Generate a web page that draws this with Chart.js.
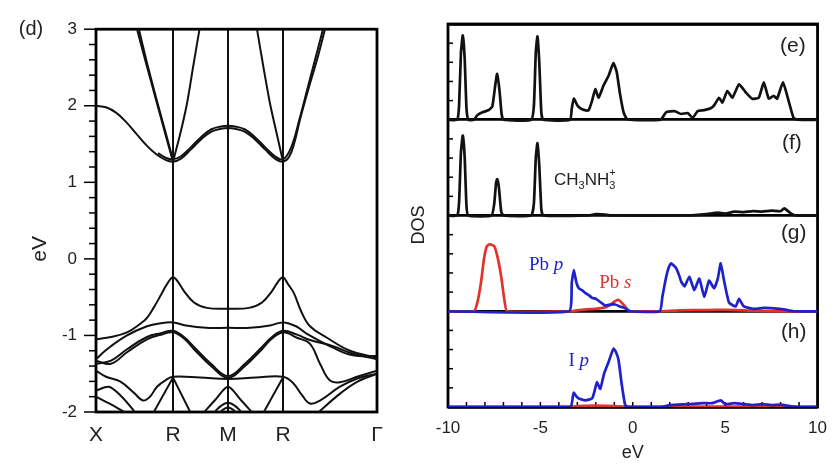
<!DOCTYPE html>
<html>
<head>
<meta charset="utf-8">
<script src="https://cdn.jsdelivr.net/npm/chart.js@4.4.1/dist/chart.umd.min.js"></script>
<style>
  body { margin: 0; background: #fff; }
  #wrap { position: relative; width: 838px; height: 471px; }
  canvas { position: absolute; top: 0; }
  #bands { left: 0; }
  #dos { left: 400px; }
</style>
</head>
<body>
<div id="wrap">
  <canvas id="bands" width="420" height="471"></canvas>
  <canvas id="dos" width="438" height="471"></canvas>
</div>
<script>
// ---- band structure (d) : [k, eV] ----
const kTicks = [0, 77, 132, 187, 281];
const kLabels = ["X", "R", "M", "R", "Γ"];
const eTicks = [-2, -1, 0, 1, 2, 3];

const bandC1a = [[0,2.0],[10,1.98],[20,1.91],[30,1.79],[40,1.64],[50,1.49],[60,1.37],[70,1.29],[77,1.27],[85,1.31],[95,1.43],[105,1.56],[115,1.66],[125,1.7],[132,1.71],[139,1.7],[149,1.66],[159,1.56],[169,1.43],[179,1.31],[187,1.27],[193,1.33],[198,1.5],[204,1.82],[212,2.2],[221,2.6],[229,3.0],[231,3.1]];
const bandC1b = [[62,1.38],[70,1.32],[77,1.3],[85,1.34],[95,1.46],[105,1.59],[115,1.69],[125,1.73],[132,1.74],[139,1.73],[149,1.69],[159,1.59],[169,1.46],[179,1.34],[187,1.3],[195,1.45],[203,1.8],[212,2.25],[220,2.65],[228,3.05]];
const bandC2a = [[40,3.05],[50,2.56],[60,2.08],[70,1.6],[77,1.27]];
const bandC2b = [[42,3.05],[51,2.56],[61,2.06],[70,1.63],[77,1.29]];
const bandC3 = [[77,1.27],[84,1.62],[91,2.03],[97,2.5],[103.5,3.0]];
const bandC4 = [[161,3.0],[167.5,2.5],[174,2.03],[181,1.62],[187,1.27]];

const bandV1 = [[0,-1.05],[15,-1.02],[31,-0.96],[45,-0.84],[51,-0.77],[58,-0.63],[65,-0.47],[71,-0.33],[77,-0.24],[82,-0.3],[88,-0.42],[98,-0.57],[111,-0.64],[132,-0.65],[153,-0.64],[166,-0.57],[176,-0.42],[182,-0.3],[187,-0.24],[192,-0.33],[198,-0.45],[205,-0.68],[214,-0.88],[231,-1.03],[254,-1.2],[281,-1.29]];
const bandV2 = [[0,-1.31],[11,-1.18],[31,-1.0],[51,-0.88],[65,-0.84],[77,-0.83],[90,-0.87],[110,-0.9],[132,-0.9],[154,-0.9],[174,-0.87],[187,-0.83],[200,-0.88],[211,-0.98],[237,-1.16],[257,-1.26],[281,-1.27]];
const bandV3a = [[0,-1.33],[15,-1.37],[31,-1.22],[51,-1.05],[65,-0.99],[77,-0.96],[88,-1.04],[98,-1.18],[115,-1.4],[132,-1.55],[149,-1.4],[166,-1.18],[176,-1.04],[187,-0.96],[201,-1.03],[214,-1.11],[224,-1.37],[234,-1.59],[244,-1.61],[261,-1.54],[281,-1.46]];
const bandV3b = [[0,-1.37],[15,-1.33],[31,-1.18],[51,-1.02],[65,-0.97],[77,-0.94],[88,-1.02],[98,-1.15],[115,-1.37],[132,-1.53],[149,-1.37],[166,-1.15],[176,-1.02],[187,-0.94],[201,-0.99],[214,-1.06],[237,-1.14],[257,-1.24],[281,-1.31]];
const bandV4 = [[0,-1.46],[10,-1.54],[24,-1.6],[38,-1.75],[47,-1.85],[54,-1.8],[61,-1.67],[70,-1.58],[77,-1.54],[104,-1.55],[132,-1.57],[160,-1.55],[187,-1.54],[197,-1.62],[206,-1.78],[214,-1.89],[224,-1.85],[244,-1.67],[262,-1.56],[281,-1.5]];
const bandV6 = [[0,-1.72],[13,-1.67],[25,-1.79],[37,-1.97],[39,-2.02]];
const bandV7 = [[0,-1.8],[15,-1.9],[31,-2.02]];
const bandV8 = [[57,-2.02],[77,-1.55],[95,-2.02]];
const bandV9 = [[107,-2.02],[120,-1.83],[132,-1.67],[144,-1.83],[157,-2.02]];
const bandV10 = [[117,-2.02],[125,-1.92],[132,-1.88],[139,-1.92],[147,-2.02]];
const bandV11 = [[122,-2.02],[132,-1.94],[142,-2.02]];
const bandV12 = [[167,-2.02],[187,-1.55]];
const bandV13 = [[221,-2.02],[244,-1.76],[262,-1.6],[281,-1.5]];

// ---- DOS (e)-(h) : [eV, height as fraction of its panel] ----
const dosTicks = [-10, -5, 0, 5, 10];
const totalDos = [[-10,0],[-9.5,0],[-9.4,0.15],[-9.3,0.7],[-9.2,0.88],[-9.1,0.65],[-9.0,0.12],[-8.9,0],[-8.6,0],[-8.4,0.05],[-8.1,0.08],[-7.8,0.1],[-7.6,0.14],[-7.45,0.35],[-7.34,0.48],[-7.22,0.32],[-7.1,0.06],[-7.0,0],[-5.5,0],[-5.35,0.15],[-5.25,0.7],[-5.16,0.87],[-5.06,0.6],[-4.95,0.08],[-4.85,0],[-3.4,0],[-3.3,0.12],[-3.19,0.22],[-3.0,0.15],[-2.83,0.12],[-2.6,0.1],[-2.39,0.1],[-2.2,0.2],[-2.03,0.32],[-1.85,0.23],[-1.6,0.35],[-1.31,0.46],[-1.05,0.59],[-0.87,0.5],[-0.69,0.27],[-0.5,0.08],[-0.33,0.01],[-0.1,0],[1.5,0],[1.81,0.08],[2.26,0.09],[2.62,0.06],[2.97,0.07],[3.24,0.02],[3.51,0.09],[3.87,0.1],[4.22,0.12],[4.4,0.15],[4.67,0.23],[4.85,0.18],[5.12,0.3],[5.39,0.23],[5.75,0.37],[6.1,0.29],[6.46,0.22],[6.82,0.23],[7.09,0.39],[7.36,0.22],[7.63,0.25],[7.81,0.22],[8.13,0.39],[8.43,0.2],[8.7,0.02],[8.9,0],[10,0]];
const cationDos = [[-10,0],[-9.5,0],[-9.4,0.14],[-9.3,0.66],[-9.2,0.835],[-9.1,0.62],[-9.0,0.1],[-8.9,0],[-7.65,0],[-7.5,0.12],[-7.4,0.34],[-7.34,0.38],[-7.25,0.3],[-7.12,0.04],[-7.0,0],[-5.5,0],[-5.35,0.13],[-5.25,0.6],[-5.16,0.755],[-5.06,0.52],[-4.95,0.07],[-4.85,0],[-2.4,0],[-2.0,0.015],[-1.5,0.01],[-1.2,0],[3.0,0],[4.0,0.015],[4.6,0.03],[5.0,0.02],[5.5,0.04],[6.0,0.035],[6.5,0.045],[7.0,0.04],[7.5,0.05],[8.0,0.045],[8.2,0.075],[8.5,0.03],[8.8,0],[10,0]];
const pbS = [[-10,0],[-8.6,0],[-8.4,0.1],[-8.2,0.32],[-8.05,0.55],[-7.9,0.68],[-7.75,0.7],[-7.5,0.68],[-7.3,0.55],[-7.12,0.36],[-6.95,0.12],[-6.8,0],[-3.3,0],[-3.0,0.01],[-2.5,0.02],[-2.0,0.025],[-1.5,0.04],[-1.23,0.065],[-1.0,0.1],[-0.78,0.12],[-0.55,0.08],[-0.3,0.02],[-0.1,0],[1.5,0],[2.5,0.01],[4.0,0.012],[5.0,0.015],[6.0,0.01],[7.5,0],[10,0]];
const pbP = [[-10,0],[-3.46,0],[-3.3,0.3],[-3.19,0.43],[-3.05,0.3],[-2.92,0.24],[-2.75,0.22],[-2.56,0.19],[-2.4,0.17],[-2.2,0.14],[-2.0,0.13],[-1.85,0.11],[-1.65,0.08],[-1.49,0.06],[-1.2,0.07],[-0.95,0.07],[-0.7,0.05],[-0.41,0.03],[-0.15,0],[1.46,0],[1.6,0.15],[1.81,0.36],[1.95,0.46],[2.08,0.5],[2.35,0.45],[2.5,0.38],[2.62,0.31],[2.8,0.26],[3.06,0.36],[3.33,0.22],[3.6,0.34],[3.87,0.15],[4.13,0.32],[4.4,0.24],[4.6,0.34],[4.76,0.5],[4.94,0.32],[5.21,0.09],[5.57,0.05],[5.75,0.13],[6.01,0.05],[6.55,0.025],[7.09,0.035],[7.63,0.03],[8.17,0.02],[8.7,0],[10,0]];
const iP = [[-10,0],[-3.37,0],[-3.25,0.1],[-3.19,0.15],[-3.05,0.11],[-2.92,0.09],[-2.56,0.07],[-2.2,0.09],[-2.05,0.18],[-1.94,0.26],[-1.76,0.19],[-1.55,0.35],[-1.31,0.47],[-1.15,0.56],[-1.04,0.61],[-0.9,0.57],[-0.77,0.49],[-0.6,0.24],[-0.41,0.02],[-0.24,0],[1.5,0],[2.0,0.02],[3.0,0.03],[3.8,0.04],[4.3,0.04],[4.76,0.07],[5.0,0.03],[5.5,0.04],[6.0,0.03],[6.5,0.02],[7.0,0.03],[7.5,0.02],[8.0,0.025],[8.5,0.01],[9.0,0],[10,0]];
const iS = [[-10,0],[-3.4,0],[-3.0,0.01],[-2.0,0.015],[-1.0,0.01],[-0.5,0],[10,0]];

const SANS = "'Liberation Sans', Arial, sans-serif";
const SERIF = "'Liberation Serif', 'Times New Roman', serif";
const BLUE = "#1f22c9";
const RED = "#e3312c";

// 枠・目盛り・注記を描く小さなプラグイン
const decoPlugin = {
  id: "deco",
  beforeDatasetsDraw(chart, args, opts) {
    const { ctx, chartArea: a } = chart;
    const xs = chart.scales.x, ys = chart.scales.y;
    ctx.save();
    ctx.strokeStyle = "#000";
    ctx.lineWidth = opts.frameWidth;
    ctx.strokeRect(a.left, a.top, a.right - a.left, a.bottom - a.top);
    ctx.lineWidth = 1.5;
    for (const t of opts.yTicks || []) {
      const py = ys.getPixelForValue(t.v);
      ctx.beginPath();
      ctx.moveTo(a.left, py);
      ctx.lineTo(a.left + t.len, py);
      ctx.stroke();
    }
    for (const t of opts.xTicks || []) {
      const px = xs.getPixelForValue(t.v);
      ctx.beginPath();
      ctx.moveTo(px, a.bottom);
      ctx.lineTo(px, a.bottom - t.len);
      ctx.stroke();
    }
    ctx.restore();
  },
  afterDraw(chart, args, opts) {
    const { ctx } = chart;
    const xs = chart.scales.x, ys = chart.scales.y;
    for (const n of opts.notes || []) {
      const px = xs.getPixelForValue(n.x), py = ys.getPixelForValue(n.y);
      ctx.save();
      ctx.translate(px, py);
      if (n.rotate) ctx.rotate(n.rotate);
      ctx.fillStyle = n.color || "#222";
      ctx.textBaseline = "middle";
      ctx.textAlign = "left";
      let w = 0;
      for (const r of n.runs) {
        ctx.font = r.font;
        if (!r.over) w += ctx.measureText(r.t).width;
      }
      let cx = n.align === "left" ? 0 : -w / 2;
      let lastX = cx;
      for (const r of n.runs) {
        ctx.font = r.font;
        const rx = r.over ? lastX : cx;
        ctx.fillText(r.t, rx, r.dy || 0);
        if (!r.over) {
          lastX = cx;
          cx += ctx.measureText(r.t).width;
        }
      }
      ctx.restore();
    }
  },
};

const toXY = (arr, off = 0) => arr.map(([x, y]) => ({ x, y: y + off }));

// ---------- (d) バンド図 ----------
const bandList = [
  [bandC1a, 0.4], [bandC1b, 0.4], [bandC2a, 0.3], [bandC2b, 0.3], [bandC3, 0.3], [bandC4, 0.3],
  [bandV1, 0.4], [bandV2, 0.4], [bandV3a, 0.4], [bandV3b, 0.4], [bandV4, 0.4],
  [bandV6, 0.3], [bandV7, 0.3], [bandV8, 0], [bandV9, 0.3], [bandV10, 0.4], [bandV11, 0.4],
  [bandV12, 0], [bandV13, 0.3],
];

const yMinor = [];
for (let v = -2; v <= 3.001; v += 0.2) {
  const major = Math.abs(v - Math.round(v)) < 1e-6;
  yMinor.push({ v, len: major ? -12 : -7 });
}

new Chart(document.getElementById("bands"), {
  type: "line",
  data: {
    datasets: bandList.map(([pts, tension]) => ({
      data: toXY(pts),
      borderColor: "#111",
      borderWidth: 2,
      pointRadius: 0,
      tension,
      fill: false,
    })),
  },
  options: {
    responsive: false,
    animation: false,
    layout: { autoPadding: false, padding: { top: 25, right: 43, bottom: 0, left: 0 } },
    plugins: {
      legend: { display: false },
      tooltip: { enabled: false },
      deco: {
        frameWidth: 2.8,
        yTicks: yMinor,
        notes: [
          { x: -65, y: 3.0, runs: [{ t: "(d)", font: `20px ${SANS}` }] },
          { x: -56, y: 0.13, rotate: -Math.PI / 2, runs: [{ t: "eV", font: `21px ${SANS}` }] },
        ],
      },
    },
    scales: {
      x: {
        type: "linear",
        min: 0,
        max: 281,
        afterBuildTicks: (s) => { s.ticks = kTicks.map((v) => ({ value: v })); },
        afterFit: (s) => { s.height = 59; },
        ticks: {
          autoSkip: false,
          maxRotation: 0,
          padding: 11,
          color: "#222",
          font: { family: SANS, size: 21 },
          callback: (v, i) => kLabels[i],
        },
        grid: { color: "#111", lineWidth: 2, drawTicks: false },
        border: { display: false },
      },
      y: {
        min: -2,
        max: 3,
        afterBuildTicks: (s) => { s.ticks = eTicks.map((v) => ({ value: v })); },
        afterFit: (s) => { s.width = 96; },
        ticks: { padding: 19, color: "#222", font: { family: SANS, size: 17 } },
        grid: { display: false, drawTicks: false },
        border: { display: false },
      },
    },
  },
  plugins: [decoPlugin],
});

// ---------- (e)-(h) DOS ----------
// 各パネルを 1 単位ずつ積み上げる（下から h, g, f, e）
const panelTicks = [];
for (let p = 0; p < 4; p++) {
  for (const f of [0.2, 0.4, 0.6, 0.8]) panelTicks.push({ v: p + f, len: 5 });
}
const eMinor = [];
for (let v = -9; v <= 9; v++) eMinor.push({ v, len: 5 });

const line = (arr, off, color, order) => ({
  data: toXY(arr, off),
  borderColor: color,
  borderWidth: 2.7,
  pointRadius: 0,
  tension: 0.15,
  fill: false,
  order,
});

const italic = (t) => ({ t, font: `italic 19px ${SERIF}` });

new Chart(document.getElementById("dos"), {
  type: "line",
  data: {
    datasets: [
      line(iP, 0, BLUE, 0),
      line(iS, 0, RED, 1),
      line(pbP, 1, BLUE, 0),
      line(pbS, 1, RED, 1),
      line(cationDos, 2, "#111", 0),
      line(totalDos, 3, "#111", 0),
    ],
  },
  options: {
    responsive: false,
    animation: false,
    layout: { autoPadding: false, padding: { top: 24, right: 17, bottom: 0, left: 0 } },
    plugins: {
      legend: { display: false },
      tooltip: { enabled: false },
      deco: {
        frameWidth: 2.8,
        yTicks: panelTicks,
        xTicks: eMinor,
        notes: [
          { x: 8.66, y: 3.77, runs: [{ t: "(e)", font: `21px ${SANS}` }] },
          { x: 8.61, y: 2.75, runs: [{ t: "(f)", font: `21px ${SANS}` }] },
          { x: 8.71, y: 1.82, runs: [{ t: "(g)", font: `21px ${SANS}` }] },
          { x: 8.71, y: 0.78, runs: [{ t: "(h)", font: `21px ${SANS}` }] },
          {
            x: -4.26, y: 2.37, align: "left", color: "#222",
            runs: [
              { t: "CH", font: `17px ${SANS}` },
              { t: "3", font: `11px ${SANS}`, dy: 6 },
              { t: "NH", font: `17px ${SANS}` },
              { t: "3", font: `11px ${SANS}`, dy: 6 },
              { t: "+", font: `11px ${SANS}`, dy: -7, over: true },
            ],
          },
          { x: -4.69, y: 1.48, color: BLUE, runs: [{ t: "Pb ", font: `19px ${SERIF}` }, italic("p")] },
          { x: -0.94, y: 1.3, color: RED, runs: [{ t: "Pb ", font: `19px ${SERIF}` }, italic("s")] },
          { x: -2.92, y: 0.48, color: BLUE, runs: [{ t: "I ", font: `19px ${SERIF}` }, italic("p")] },
          { x: -11.55, y: 1.9, rotate: -Math.PI / 2, runs: [{ t: "DOS", font: `18px ${SANS}` }] },
        ],
      },
    },
    scales: {
      x: {
        type: "linear",
        min: -10,
        max: 10,
        afterBuildTicks: (s) => { s.ticks = dosTicks.map((v) => ({ value: v })); },
        afterFit: (s) => { s.height = 64; },
        ticks: { maxRotation: 0, padding: 11, color: "#222", font: { family: SANS, size: 17 } },
        grid: { display: false, drawTicks: false },
        border: { display: false },
        title: {
          display: true,
          text: "eV",
          color: "#222",
          font: { family: SANS, size: 18 },
          padding: { top: 0, bottom: 7 },
        },
      },
      y: {
        min: 0,
        max: 4,
        afterBuildTicks: (s) => { s.ticks = [0, 1, 2, 3, 4].map((v) => ({ value: v })); },
        afterFit: (s) => { s.width = 48; },
        ticks: { display: false },
        grid: { color: "#000", lineWidth: 2.8, drawTicks: false },
        border: { display: false },
      },
    },
  },
  plugins: [decoPlugin],
});
</script>
</body>
</html>
